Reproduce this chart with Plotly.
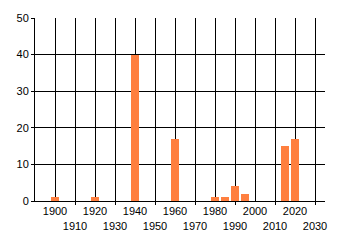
import plotly.graph_objects as go

years = [1900, 1920, 1940, 1960, 1980, 1985, 1990, 1995, 2015, 2020]
counts = [1, 1, 40, 17, 1, 1, 4, 2, 15, 17]

decades = list(range(1900, 2031, 10))
decade_labels = [str(d) if (d // 10) % 2 == 0 else "<br>" + str(d) for d in decades]
odd_decades = [d for d in decades if (d // 10) % 2 == 1]
y_ticks = [0, 10, 20, 30, 40, 50]

fig = go.Figure()
fig.add_trace(go.Bar(x=years, y=counts, width=4, marker=dict(color="#FF7F3F", line=dict(width=0)),
                     showlegend=False))
# invisible trace on overlay axis for the small ticks
fig.add_trace(go.Scatter(x=[1890], y=[0], xaxis="x2", mode="markers", marker=dict(opacity=0),
                         showlegend=False, hoverinfo="skip"))

font = dict(family="Liberation Sans, Arial, sans-serif", size=11, color="#000000")
fig.update_layout(
    width=340, height=245,
    margin=dict(l=35, r=15, t=15, b=44),
    paper_bgcolor="white", plot_bgcolor="white",
    font=font,
    bargap=0,
    xaxis=dict(range=[1890, 2035], tickmode="array", tickvals=decades, ticktext=decade_labels,
               tickangle=0,
               showgrid=True, gridcolor="black", gridwidth=1, ticks="", zeroline=False,
               showline=True, linecolor="black", linewidth=1, tickfont=font, fixedrange=True),
    xaxis2=dict(range=[1890, 2035], overlaying="x", side="bottom", tickmode="array",
                tickvals=odd_decades, ticktext=["" for _ in odd_decades], ticks="outside",
                ticklen=3, tickcolor="black", tickwidth=1, showgrid=False, zeroline=False,
                showline=False, anchor="y", tickangle=0),
    yaxis=dict(range=[0, 50], tickmode="array", tickvals=y_ticks, showgrid=True, gridcolor="black",
               gridwidth=1, ticks="outside", ticklen=3, tickcolor="black", zeroline=False,
               showline=True, linecolor="black", linewidth=1, tickfont=font),
)
fig.write_html("out.html")
